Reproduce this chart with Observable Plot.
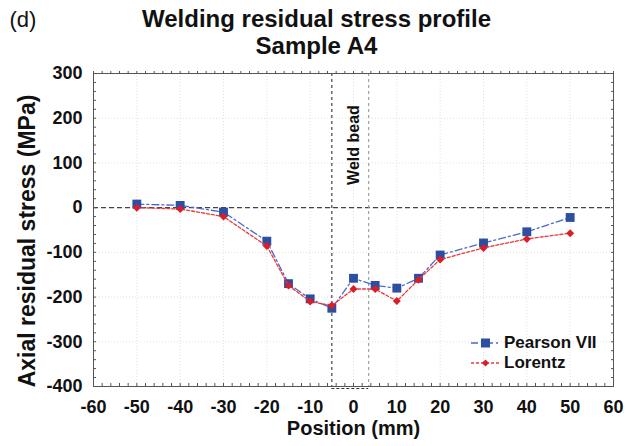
<!DOCTYPE html>
<html>
<head>
<meta charset="utf-8">
<script src="https://cdn.jsdelivr.net/npm/d3@7"></script>
<script src="https://cdn.jsdelivr.net/npm/@observablehq/plot@0.6"></script>
<style>
  body { margin: 0; background: #fff; font-family: "Liberation Sans", Arial, sans-serif; }
  #wrap { position: relative; width: 639px; height: 446px; }
  .legend { position: absolute; left: 470px; top: 333px; font-weight: bold; font-size: 17px; color: #111; }
  .legend .row { display: flex; align-items: center; height: 20px; }
  .legend svg { margin-right: 3px; }
</style>
</head>
<body>
<div id="wrap"></div>
<script>
// ---- data ----
const positions = [-50, -40, -30, -20, -15, -10, -5, 0, 5, 10, 15, 20, 30, 40, 50];
const pearsonVII = [8, 5, -10, -75, -170, -204, -225, -158, -174, -180, -158, -106, -79, -54, -22];
const lorentz    = [0, -3, -20, -86, -174, -210, -219, -182, -182, -209, -161, -116, -90, -70, -57];
const seriesNames = ["Pearson VII", "Lorentz"];
const xTicks = [-60, -50, -40, -30, -20, -10, 0, 10, 20, 30, 40, 50, 60];
const yTicks = [300, 200, 100, 0, -100, -200, -300, -400];
const xMinor = d3.range(-60, 61, 2);
const yMinor = d3.range(-400, 301, 20);
const weldBounds = [-5, 3.5];
const weldLabel = ["Weld bead"];
const weldLabelPos = {x: 0, y: 140};
const titleLines = ["Welding residual stress profile", "Sample A4"];
const panelTag = "(d)";
const xLabel = "Position (mm)";
const yLabel = "Axial residual stress (MPa)";

const rows = positions.map((p, i) => ({pos: p, pearson: pearsonVII[i], lorentz: lorentz[i]}));

const blueLine = "#4a6acb", blueMark = "#2c4ea3";
const redLine = "#ee3a3a", redMark = "#d81e28";
const font = "'Liberation Sans', Arial, sans-serif";

const chart = Plot.plot({
  width: 639,
  height: 446,
  marginLeft: 93,
  marginRight: 26,
  marginTop: 73,
  marginBottom: 60,
  style: {fontFamily: font, background: "white", color: "#111", overflow: "visible"},
  x: {domain: [-60, 60]},
  y: {domain: [-400, 300]},
  marks: [
    Plot.gridX(xTicks, {stroke: "#bbb", strokeOpacity: 0.45, strokeDasharray: "1,2"}),
    Plot.gridY(yTicks, {stroke: "#bbb", strokeOpacity: 0.45, strokeDasharray: "1,2"}),
    Plot.ruleY([0], {stroke: "#444", strokeWidth: 1.2, strokeDasharray: "5,3"}),
    Plot.ruleX([weldBounds[0]], {stroke: "#333", strokeWidth: 1.1, strokeDasharray: "3,3"}),
    Plot.ruleX([weldBounds[1]], {stroke: "#999", strokeWidth: 1.1, strokeDasharray: "3,3"}),
    Plot.ruleY([-400], {x1: weldBounds[0], x2: weldBounds[1], dy: 2, stroke: "#333", strokeWidth: 1.2, strokeDasharray: "3,2"}),
    Plot.text(weldLabel, {x: () => weldLabelPos.x, y: () => weldLabelPos.y, text: d => d, rotate: -90,
      fontSize: 16, fontWeight: "bold", fill: "#111"}),
    Plot.line(rows, {x: "pos", y: "pearson", stroke: blueLine, strokeWidth: 1.3, strokeDasharray: "7,3,2,3"}),
    Plot.dot(rows, {x: "pos", y: "pearson", symbol: "square", r: 5, fill: blueMark, stroke: "none"}),
    Plot.line(rows, {x: "pos", y: "lorentz", stroke: redLine, strokeWidth: 1.3, strokeDasharray: "3,2"}),
    Plot.dot(rows, {x: "pos", y: "lorentz", symbol: "diamond2", r: 3.6, fill: redMark, stroke: "none"}),
    Plot.frame({stroke: "#555", strokeWidth: 1}),
    // minor ticks
    Plot.axisX(xMinor, {anchor: "bottom", tickSize: -3, tickFormat: () => "", label: null, stroke: "#555"}),
    Plot.axisX(xMinor, {anchor: "top", tickSize: 3, tickFormat: () => "", label: null, stroke: "#555"}),
    Plot.axisY(yMinor, {anchor: "left", tickSize: -3, tickFormat: () => "", label: null, stroke: "#555"}),
    Plot.axisY(yMinor, {anchor: "right", tickSize: -3, tickFormat: () => "", label: null, stroke: "#555"}),
    // major tick labels
    Plot.axisX(xTicks, {anchor: "bottom", tickSize: 0, tickPadding: 14, fontSize: 18, fontWeight: "bold",
      tickFormat: d => String(d), label: null}),
    Plot.axisY(yTicks, {anchor: "left", tickSize: 0, tickPadding: 11, fontSize: 18, fontWeight: "bold",
      tickFormat: d => String(d), label: null}),
    // axis titles
    Plot.text([xLabel], {frameAnchor: "bottom", dy: 48, text: d => d, fontSize: 20, fontWeight: "bold", fill: "#111"}),
    Plot.text([yLabel], {frameAnchor: "left", textAnchor: "middle", rotate: -90, dx: -66, dy: 11, text: d => d,
      fontSize: 23, fontWeight: "bold", fill: "#111"}),
    // title
    Plot.text([titleLines[0]], {frameAnchor: "top", dx: -37, dy: -54, lineAnchor: "middle", text: d => d,
      fontSize: 24, fontWeight: "bold", fill: "#111"}),
    Plot.text([titleLines[1]], {frameAnchor: "top", dx: -37, dy: -27, lineAnchor: "middle", text: d => d,
      fontSize: 24, fontWeight: "bold", fill: "#111"}),
    Plot.text([panelTag], {frameAnchor: "top-left", textAnchor: "start", dx: -84, dy: -54, lineAnchor: "middle",
      text: d => d, fontSize: 22, fill: "#111"})
  ]
});

const wrap = document.getElementById("wrap");
wrap.appendChild(chart);

// legend
const legend = document.createElement("div");
legend.className = "legend";
const styles = [
  {line: blueLine, dash: "7,3,2,3", mark: blueMark, shape: "square"},
  {line: redLine, dash: "3,2", mark: redMark, shape: "diamond"}
];
seriesNames.forEach((name, i) => {
  const s = styles[i];
  const row = document.createElement("div");
  row.className = "row";
  const markSvg = s.shape === "square"
    ? `<rect x="11" y="5.5" width="9" height="9" fill="${s.mark}"/>`
    : `<path d="M15.5 6.5 L19 10 L15.5 13.5 L12 10 Z" fill="${s.mark}"/>`;
  row.innerHTML = `<svg width="31" height="20"><line x1="1" y1="10" x2="30" y2="10" stroke="${s.line}" stroke-width="1.3" stroke-dasharray="${s.dash}"/>${markSvg}</svg><span>${name}</span>`;
  legend.appendChild(row);
});
wrap.appendChild(legend);
</script>
</body>
</html>
